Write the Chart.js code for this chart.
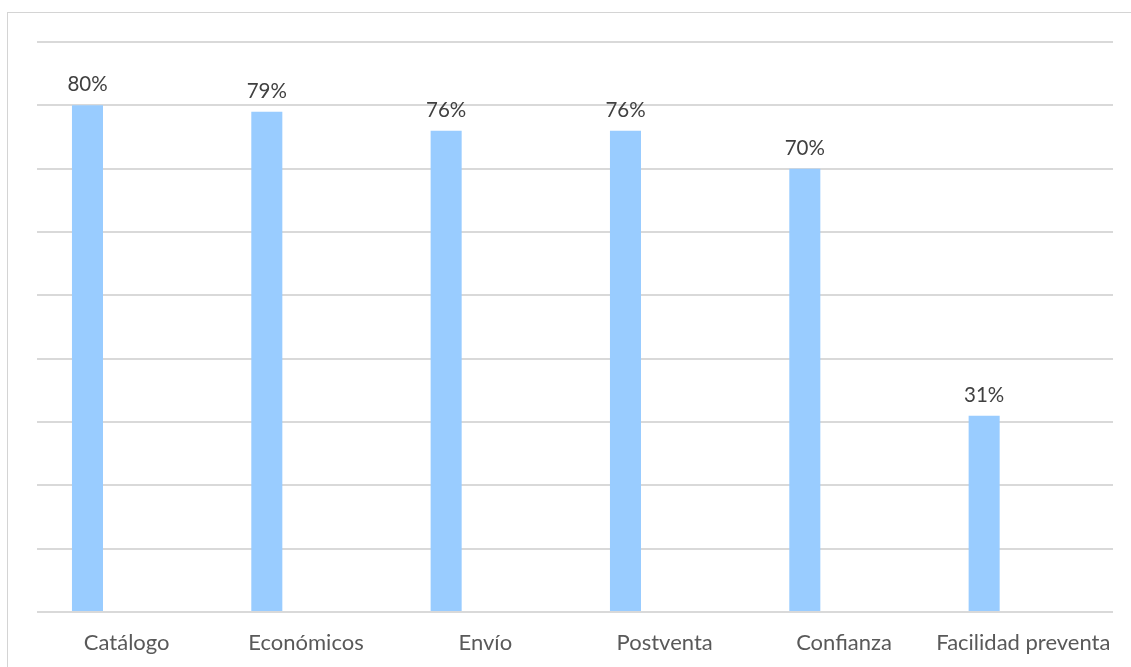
<!DOCTYPE html>
<html>
<head>
<meta charset="utf-8">
<script src="https://cdn.jsdelivr.net/npm/chart.js@4/dist/chart.umd.min.js"></script>
<style>
body{margin:0;background:#fff;overflow:hidden}
#marco{position:absolute;left:7px;top:12px;width:1300px;height:800px;border:1px solid #d4d4d4;box-sizing:border-box}
#grafico{position:absolute;left:0;top:0}
</style>
</head>
<body>
<div id="marco"></div>
<canvas id="grafico" width="1131" height="667"></canvas>
<script>

const categorias=["Catálogo","Económicos","Envío","Postventa","Confianza","Facilidad preventa"]
const porcentajes=[80,79,76,76,70,31]
// segunda serie vacía: deja la barra a la izquierda de cada categoría
const serieVacia=[null,null,null,null,null,null]

const fuente="Lato, 'Open Sans', sans-serif"

// etiqueta con el porcentaje encima de cada barra
const etiquetas={
id:"etiquetas",
afterDatasetsDraw(chart){

const ctx=chart.ctx
const meta=chart.getDatasetMeta(0)

ctx.save()
ctx.font="20.5px "+fuente
ctx.fillStyle="#404040"
ctx.textAlign="center"
ctx.textBaseline="alphabetic"

meta.data.forEach((bar,i)=>{
ctx.fillText(porcentajes[i]+"%",bar.x,bar.y-14)
})

ctx.restore()

}
}

new Chart(document.getElementById("grafico"),{
type:"bar",
data:{
labels:categorias,
datasets:[
{
data:porcentajes,
backgroundColor:"#99ccff",
barPercentage:0.396,
categoryPercentage:0.874
},
{
data:serieVacia,
backgroundColor:"#99ccff",
barPercentage:0.396,
categoryPercentage:0.874
}
]
},
options:{
responsive:false,
animation:false,
layout:{padding:{left:37,right:18,top:42,bottom:10}},
plugins:{legend:{display:false},tooltip:{enabled:false}},
scales:{
x:{
grid:{display:false,drawTicks:false},
border:{display:false},
ticks:{color:"#595959",font:{family:fuente,size:22},padding:18,maxRotation:0,autoSkip:false},
afterFit(scale){
scale.height=45
}
},
y:{
min:0,
max:90,
ticks:{display:false,stepSize:10},
grid:{color:"#d9d9d9",lineWidth:2,drawTicks:false},
border:{display:false}
}
}
},
plugins:[etiquetas]
})

</script>
</body>
</html>
